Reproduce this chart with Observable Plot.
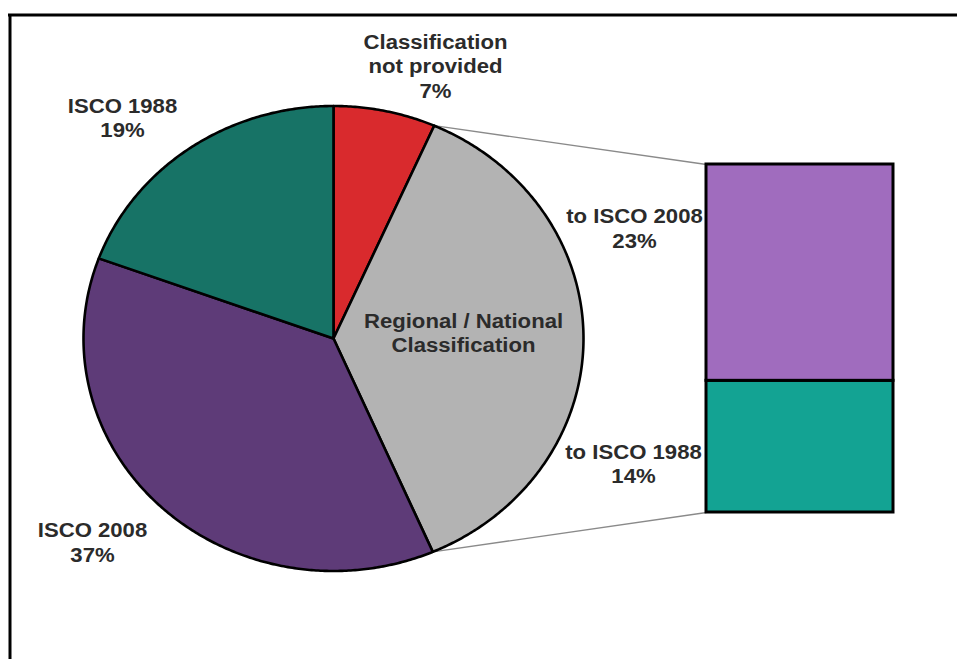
<!DOCTYPE html>
<html><head><meta charset="utf-8">
<script src="https://cdn.jsdelivr.net/npm/d3@7"></script>
<script src="https://cdn.jsdelivr.net/npm/@observablehq/plot@0.6"></script>
<style>body{margin:0;background:#fff}</style>
</head><body><div id="chart"></div>
<script>
// ---- data ----
const sliceKeys = ["Classification not provided", "Regional / National Classification", "ISCO 2008", "ISCO 1988"];
const sliceValues = [6.6, 36.9, 37.1, 19.4];
const sliceColors = ["#d92a2d", "#b3b3b3", "#5e3b78", "#177366"];
const sliceLabels = ["Classification\nnot provided\n7%", "Regional / National\nClassification", "ISCO 2008\n37%", "ISCO 1988\n19%"];

const barKeys = ["to ISCO 1988", "to ISCO 2008"];
const barValues = [14, 23];
const barColors = ["#13a393", "#a06cbe"];
const barLabels = ["to ISCO 1988\n14%", "to ISCO 2008\n23%"];

// ---- layout ----
const W = 957, H = 659;
const cx = 333, cy = 338, rx = 250, ry = 232.5;      // pie placement in pixels
const ux = px => (px - cx) / rx, uy = py => (cy - py) / ry;
const labelPx = {
  "Classification not provided": [435, 65],
  "Regional / National Classification": [463, 331.5],
  "ISCO 2008": [92, 541],
  "ISCO 1988": [122, 116.5],
  "to ISCO 1988": [633, 462.5],
  "to ISCO 2008": [634, 227]
};
const bar = {x1: ux(706), x2: ux(893), y1: uy(512), y2: uy(164)};

// ---- pie polygons ----
const total = d3.sum(sliceValues);
const pieRows = [];
const cuts = [0];
let acc = 0;
sliceKeys.forEach((k, i) => {
  const a0 = acc / total * 2 * Math.PI;
  acc += sliceValues[i];
  cuts.push(acc / total);
  const a1 = acc / total * 2 * Math.PI;
  pieRows.push({key: k, x: 0, y: 0});
  const n = Math.max(2, Math.ceil((a1 - a0) / (Math.PI / 360)));
  for (let j = 0; j <= n; j++) {
    const a = a0 + (a1 - a0) * j / n;
    pieRows.push({key: k, x: Math.sin(a), y: Math.cos(a)});
  }
  pieRows.push({key: k, x: 0, y: 0});
});

// ---- bar of pie ----
const barTotal = d3.sum(barValues);
const unit = (bar.y2 - bar.y1) / barTotal;
let bacc = 0;
const barRows = barKeys.map((k, i) => {
  const r = {key: k, x1: bar.x1, x2: bar.x2, y1: bar.y1 + bacc * unit, y2: bar.y1 + (bacc + barValues[i]) * unit};
  bacc += barValues[i];
  return r;
});

// connectors from the split slice to the bar
const aStart = cuts[1] * 2 * Math.PI, aEnd = cuts[2] * 2 * Math.PI;
const connRows = [
  {x1: Math.sin(aStart), y1: Math.cos(aStart), x2: bar.x1, y2: bar.y2},
  {x1: Math.sin(aEnd), y1: Math.cos(aEnd), x2: bar.x1, y2: bar.y1}
];

// labels
const labelRows = [
  ...sliceKeys.map((k, i) => ({text: sliceLabels[i], x: ux(labelPx[k][0]), y: uy(labelPx[k][1])})),
  ...barKeys.map((k, i) => ({text: barLabels[i], x: ux(labelPx[k][0]), y: uy(labelPx[k][1])}))
];

const xmin = ux(0), xmax = ux(W), ymin = uy(H), ymax = uy(0);
const frameX = ux(9.5), frameY = uy(14.5);

const chart = Plot.plot({
  width: W, height: H,
  margin: 0,
  x: {domain: [xmin, xmax], axis: null},
  y: {domain: [ymin, ymax], axis: null},
  color: {type: "ordinal", domain: [...sliceKeys, ...barKeys], range: [...sliceColors, ...barColors]},
  style: {background: "#fff", fontFamily: "Liberation Sans, Arial, sans-serif"},
  marks: [
    Plot.ruleY([frameY], {x1: frameX - 0.006, x2: xmax, stroke: "#000", strokeWidth: 3}),
    Plot.ruleX([frameX], {y1: ymin, y2: frameY, stroke: "#000", strokeWidth: 3}),
    Plot.link(connRows, {x1: "x1", y1: "y1", x2: "x2", y2: "y2", stroke: "#8a8a8a", strokeWidth: 1.3}),
    Plot.line(pieRows, {x: "x", y: "y", z: "key", fill: "key", stroke: "#000", strokeWidth: 2.6, strokeLinejoin: "round"}),
    Plot.rect(barRows, {x1: "x1", x2: "x2", y1: "y1", y2: "y2", fill: "key", stroke: "#000", strokeWidth: 3}),
    Plot.text(labelRows, {x: "x", y: "y", text: "text", fontSize: 20.5, fontWeight: "bold", fill: "#2b2b2b",
      lineHeight: 1.2, textAnchor: "middle", lineAnchor: "middle"})
  ]
});
// slight horizontal stretch of the labels, as in the reference
chart.querySelectorAll("text").forEach(t => {
  const tr = t.getAttribute("transform");
  if (tr) t.setAttribute("transform", tr + " scale(1.08,1)");
});
document.getElementById("chart").appendChild(chart);
</script>
</body></html>
